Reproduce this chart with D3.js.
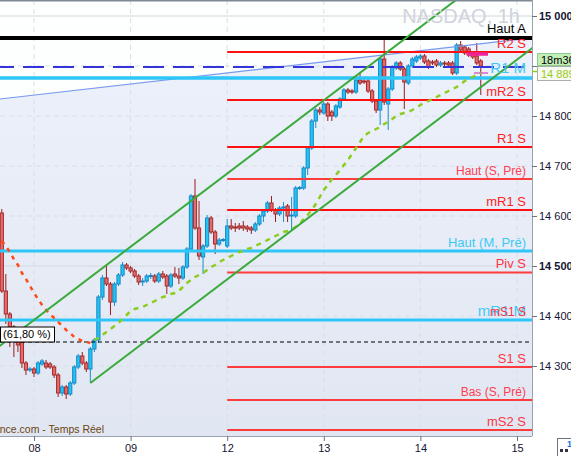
<!DOCTYPE html>
<html><head><meta charset="utf-8">
<script src="https://cdn.jsdelivr.net/npm/d3@7"></script>
<style>html,body{margin:0;padding:0;background:#fff;}svg{display:block;font-family:"Liberation Sans",Arial,sans-serif;}</style>
</head><body><svg id="c" width="571" height="456"></svg>
<script>
// ---------------- DATA ----------------
const dayTicks = [0, 24, 48, 72, 96, 120];
const dayLabels = ["08", "09", "12", "13", "14", "15"];
const priceTicks = [14300, 14400, 14500, 14600, 14700, 14800, 14900, 15000];
const hiddenPriceLabels = [14900]; // covered by the price boxes in the reference

const firstHour = -8; // hourly candles, index relative to day 08 start
const candleOpen = [14606,14450,14404,14378,14350,14348,14306,14292,14294,14286,14304,14306,14304,14298,14282,14246,14258,14244,14266,14298,14320,14306,14294,14334,14352,14438,14476,14464,14428,14464,14482,14502,14496,14490,14480,14468,14470,14480,14480,14470,14484,14480,14460,14484,14480,14476,14498,14534,14640,14576,14518,14540,14596,14568,14544,14552,14540,14580,14578,14580,14580,14578,14576,14572,14584,14600,14610,14626,14612,14604,14616,14620,14602,14600,14656,14656,14696,14736,14790,14812,14806,14824,14808,14800,14818,14834,14852,14850,14848,14872,14870,14870,14850,14830,14812,14914,14824,14854,14896,14906,14894,14866,14900,14910,14916,14920,14910,14908,14910,14902,14906,14906,14906,14886,14942,14938,14934,14926,14920,14910];
const candleHigh = [14614,14484,14408,14382,14354,14366,14310,14298,14298,14310,14314,14312,14308,14302,14286,14262,14262,14270,14302,14324,14328,14310,14338,14356,14442,14482,14502,14468,14468,14486,14508,14506,14500,14494,14484,14476,14484,14486,14484,14488,14490,14484,14486,14498,14496,14502,14538,14644,14674,14630,14544,14602,14600,14572,14556,14556,14594,14594,14586,14586,14590,14582,14580,14588,14604,14614,14630,14640,14616,14620,14628,14624,14638,14660,14660,14700,14740,14794,14816,14818,14828,14828,14812,14824,14838,14856,14856,14854,14876,14886,14874,14874,14854,14834,14918,14958,14858,14902,14910,14910,14898,14904,14918,14922,14924,14924,14914,14912,14914,14910,14910,14910,14910,14946,14950,14942,14938,14930,14946,14914];
const candleLow = [14446,14384,14338,14318,14328,14296,14282,14288,14278,14282,14300,14294,14294,14276,14238,14240,14234,14240,14262,14294,14302,14288,14266,14328,14346,14432,14460,14402,14420,14460,14478,14492,14486,14476,14462,14460,14466,14474,14466,14466,14474,14444,14456,14476,14464,14472,14494,14530,14572,14512,14484,14536,14564,14524,14540,14548,14536,14572,14568,14572,14570,14568,14564,14568,14580,14588,14606,14608,14588,14600,14588,14588,14570,14596,14652,14652,14682,14732,14776,14802,14802,14790,14790,14796,14814,14830,14844,14844,14844,14862,14864,14846,14826,14806,14782,14822,14772,14850,14892,14890,14814,14862,14896,14906,14912,14904,14894,14902,14898,14898,14900,14898,14882,14882,14928,14922,14918,14914,14902,14842];
const candleClose = [14450,14404,14378,14350,14342,14306,14292,14294,14286,14306,14310,14298,14298,14282,14246,14258,14244,14266,14298,14320,14306,14294,14334,14352,14438,14476,14464,14428,14464,14482,14502,14496,14490,14480,14468,14470,14480,14481,14470,14484,14478,14460,14482,14480,14476,14498,14534,14640,14576,14520,14540,14596,14568,14544,14552,14553,14580,14576,14577,14576,14576,14574,14572,14584,14600,14610,14626,14612,14604,14616,14618,14600,14602,14656,14657,14696,14736,14790,14812,14808,14824,14800,14800,14820,14834,14852,14848,14848,14872,14866,14868,14850,14830,14812,14914,14828,14854,14898,14906,14894,14868,14900,14914,14918,14920,14908,14898,14907,14902,14906,14905,14902,14886,14942,14932,14926,14922,14918,14906,14900];

// moving average (orange while falling, lime while rising)
const maFallStart = -8;
const maFall = [14550,14540,14528,14514,14502,14486,14474,14460,14446,14434,14422,14412,14404,14396,14388,14380,14372,14366,14358,14354,14350,14348,14346];
const maRiseStart = 15;
const maRise = [14352,14356,14362,14368,14374,14380,14386,14394,14402,14410,14414,14416,14418,14422,14426,14430,14434,14438,14440,14444,14446,14450,14458,14466,14472,14478,14482,14486,14492,14498,14502,14508,14512,14516,14520,14524,14528,14530,14534,14536,14540,14544,14548,14552,14556,14560,14564,14568,14570,14574,14578,14584,14594,14602,14612,14624,14638,14652,14662,14674,14682,14692,14702,14712,14724,14736,14748,14760,14766,14770,14774,14778,14784,14788,14794,14800,14804,14806,14808,14812,14816,14822,14826,14830,14834,14838,14842,14846,14850,14854,14858,14864,14870,14874,14878,14882,14886];

// horizontal levels
const levelNames = ["Haut A","R2 S","R1 M","mR2 S","R1 S","Haut (S, Pré)","mR1 S","Haut (M, Pré)","Piv S","mS1 S","mR1 M","S1 S","Bas (S, Pré)","mS2 S"];
const levelValues = [14956,14928,14876,14832,14738,14674,14612,14530,14487,14392,14392,14298,14232,14172];
const levelStart = [-9,48,-9,48,48,48,48,-9,48,48,-9,48,48,48];

const currentPriceDash = 14898;
const fiboValue = 14348;
const fiboLabel = "(61,80 %)";
const lastPrice = "14 889";
const lastPriceValue = 14889;
const countdown = "18m36";

const trendT = [-9, 124], trendV = [14833.5, 14956.5];
const chanUpT = [-9, 124], chanUpV = [14337, 15149];
const chanLoT = [14, 124], chanLoV = [14266, 14937];
const magThickT = [107.6, 112.8], magThickV = 14924;
const magThinT = [109.3, 112.8], magThinV = 14886;

// ---------------- STYLES ----------------
const levelStyle = {
  "Haut A": {c:"#000000", t:"#000000", w:4, fs:13},
  "R2 S": {c:"#ff1111", t:"#ff2222", w:2.2, fs:13},
  "R1 M": {c:"#2ec6f8", t:"#3ccaf4", w:3.5, fs:15},
  "mR2 S": {c:"#ff1111", t:"#ff2222", w:2.2, fs:13},
  "R1 S": {c:"#ff1111", t:"#ff2222", w:2.2, fs:13},
  "Haut (S, Pré)": {c:"#ff3c3c", t:"#ff4050", w:2.2, fs:12},
  "mR1 S": {c:"#ff1111", t:"#ff2222", w:2.2, fs:13},
  "Haut (M, Pré)": {c:"#2ec6f8", t:"#3ccaf4", w:3, fs:13},
  "Piv S": {c:"#ff3c3c", t:"#ff3344", w:2.2, fs:13},
  "mS1 S": {c:"#ff3c3c", t:"#ff3344", w:2.2, fs:12},
  "mR1 M": {c:"#2ec6f8", t:"#3ccaf4", w:3, fs:15},
  "S1 S": {c:"#ff3c3c", t:"#ff3344", w:2.2, fs:13},
  "Bas (S, Pré)": {c:"#ff3c3c", t:"#ff4050", w:2.2, fs:12},
  "mS2 S": {c:"#ff3c3c", t:"#ff3344", w:2.2, fs:13}
};

// ---------------- CHART ----------------
const PR = 532, PB = 436;
const svg = d3.select("#c");
const x = d3.scaleLinear().domain([0, 120]).range([34, 517]);
const y = d3.scaleLinear().domain([14300, 15000]).range([366, 16]);

const defs = svg.append("defs");
defs.append("clipPath").attr("id","plot").append("rect").attr("x",0).attr("y",0).attr("width",PR).attr("height",PB);
const grad = defs.append("linearGradient").attr("id","shade").attr("x1",0).attr("y1",0).attr("x2",0).attr("y2",1);
grad.append("stop").attr("offset","0%").attr("stop-color","#edf1fb");
grad.append("stop").attr("offset","100%").attr("stop-color","#e1e7f2");

svg.append("rect").attr("width",571).attr("height",456).attr("fill","#fff");
const g = svg.append("g").attr("clip-path","url(#plot)");
g.append("rect").attr("width",PR).attr("height",PB).attr("fill","#fdfefe");

// shaded area under the trend line
const trendPts = trendT.map((t,i)=>[t,trendV[i]]);
g.append("path").datum(trendPts)
  .attr("d", d3.area().x(d=>x(d[0])).y0(PB).y1(d=>y(d[1])))
  .attr("fill","url(#shade)");

// grid
g.selectAll(".hg").data(priceTicks).join("line")
  .attr("x1",0).attr("x2",PR).attr("y1",d=>y(d)).attr("y2",d=>y(d))
  .attr("stroke",d=>(d%500===0)?"#d3d7de":"#d9dee7").attr("stroke-width",1)
  .attr("stroke-dasharray",d=>(d%500===0)?null:"5,4");
g.selectAll(".vg").data(dayTicks).join("line")
  .attr("x1",d=>x(d)).attr("x2",d=>x(d)).attr("y1",0).attr("y2",PB)
  .attr("stroke","#d9dee7").attr("stroke-width",1).attr("stroke-dasharray","5,4");

// candles
const candles = candleOpen.map((o,i)=>({t:firstHour+i,o,h:candleHigh[i],l:candleLow[i],c:candleClose[i]}));
const cg = g.append("g");
cg.selectAll(".wick").data(candles).join("line")
  .attr("x1",d=>x(d.t)).attr("x2",d=>x(d.t)).attr("y1",d=>y(d.h)).attr("y2",d=>y(d.l))
  .attr("stroke",d=>d.c>=d.o?"#1a8fcc":"#9b1c1c").attr("stroke-width",1);
cg.selectAll(".body").data(candles).join("rect")
  .attr("x",d=>x(d.t)-1.6).attr("width",3.2)
  .attr("y",d=>y(Math.max(d.o,d.c))).attr("height",d=>Math.max(1,Math.abs(y(d.o)-y(d.c))))
  .attr("fill",d=>d.c>=d.o?"#22c4f2":"#e36b6b")
  .attr("stroke",d=>d.c>=d.o?"#1488c8":"#a52a2a").attr("stroke-width",1);

// trend line
const line = d3.line().x(d=>x(d[0])).y(d=>y(d[1]));
g.append("path").datum(trendPts).attr("d",line).attr("fill","none").attr("stroke","#7799ee").attr("stroke-width",1.2);

// levels
const levels = levelNames.map((n,i)=>({n,v:levelValues[i],s:levelStart[i]}));
g.selectAll(".lvl").data(levels).join("line")
  .attr("x1",d=>x(d.s)).attr("x2",PR).attr("y1",d=>y(d.v)).attr("y2",d=>y(d.v))
  .attr("stroke",d=>levelStyle[d.n].c).attr("stroke-width",d=>levelStyle[d.n].w);

// current price dashed line
g.append("line").attr("x1",0).attr("x2",PR).attr("y1",y(currentPriceDash)).attr("y2",y(currentPriceDash))
  .attr("stroke","#3434d8").attr("stroke-width",2).attr("stroke-dasharray","21,9").attr("stroke-dashoffset",7);

// fibo dashed line
g.append("line").attr("x1",0).attr("x2",PR).attr("y1",y(fiboValue)).attr("y2",y(fiboValue))
  .attr("stroke","#000").attr("stroke-width",1.2).attr("stroke-dasharray","4,3");

// magenta markers
g.append("line").attr("x1",x(magThickT[0])).attr("x2",x(magThickT[1])).attr("y1",y(magThickV)).attr("y2",y(magThickV))
  .attr("stroke","#ee2299").attr("stroke-width",3.5);
g.append("line").attr("x1",x(magThinT[0])).attr("x2",x(magThinT[1])).attr("y1",y(magThinV)).attr("y2",y(magThinV))
  .attr("stroke","#d040c8").attr("stroke-width",1.2);

// moving averages
g.append("path").datum(maFall.map((v,i)=>[maFallStart+i,v])).attr("d",line)
  .attr("fill","none").attr("stroke","#ff4a1a").attr("stroke-width",2.5).attr("stroke-dasharray","4,5");
g.append("path").datum(maRise.map((v,i)=>[maRiseStart+i,v])).attr("d",line)
  .attr("fill","none").attr("stroke","#8ccc1e").attr("stroke-width",2.5).attr("stroke-dasharray","5,5");

// channel
g.append("path").datum(chanUpT.map((t,i)=>[t,chanUpV[i]])).attr("d",line).attr("fill","none").attr("stroke","#3aaa3a").attr("stroke-width",2);
g.append("path").datum(chanLoT.map((t,i)=>[t,chanLoV[i]])).attr("d",line).attr("fill","none").attr("stroke","#3aaa3a").attr("stroke-width",2);

// fibo label box
g.append("rect").attr("x",0.5).attr("y",y(fiboValue)-15).attr("width",54).attr("height",15)
  .attr("fill","#fff").attr("stroke","#000").attr("stroke-width",1);
g.append("text").attr("x",3).attr("y",y(fiboValue)-4).attr("font-size",11).attr("fill","#000").text(fiboLabel);

// level labels (M first, then others over them)
const lblOrder = levels.filter(d=>d.n.endsWith(" M")).concat(levels.filter(d=>!d.n.endsWith(" M")));
g.selectAll(".lbl").data(lblOrder).join("text")
  .attr("x",526).attr("y",d=>y(d.v)-3-levelStyle[d.n].w/2)
  .attr("text-anchor","end").attr("font-size",d=>levelStyle[d.n].fs)
  .attr("fill",d=>levelStyle[d.n].t).text(d=>d.n);

// watermark
g.append("text").attr("x",520).attr("y",23).attr("text-anchor","end").attr("font-size",20)
  .attr("fill","#cfd4dc").text("NASDAQ, 1h");

// source
svg.append("text").attr("x",104).attr("y",433).attr("text-anchor","end").attr("font-size",10.5)
  .attr("fill","#6b4410").text("ance.com - Temps Réel");

// top border
svg.append("line").attr("x1",0).attr("x2",PR).attr("y1",0.75).attr("y2",0.75).attr("stroke","#7d8995").attr("stroke-width",1.5);

// axes
const yAxis = svg.append("g").attr("transform",`translate(${PR},0)`)
  .call(d3.axisRight(y).tickValues(priceTicks).tickSize(5).tickPadding(2)
    .tickFormat(d=>hiddenPriceLabels.includes(d)?"":d3.format(",")(d).replace(",", " ")));
yAxis.select(".domain").attr("stroke","#9aa3ad").attr("d",`M0.5,0V${PB}`);
yAxis.selectAll(".tick line").attr("stroke","#6a7480");
yAxis.selectAll(".tick text").attr("font-size",11).attr("fill","#141433")
  .attr("font-family","Liberation Sans, Arial, sans-serif")
  .attr("font-weight",d=>d%500===0?"bold":"normal");

const xAxis = svg.append("g").attr("transform",`translate(0,${PB})`)
  .call(d3.axisBottom(x).tickValues(dayTicks).tickSize(5).tickPadding(3).tickFormat((d,i)=>dayLabels[i]));
xAxis.select(".domain").attr("stroke","#9aa3ad").attr("d",`M0,0.5H${PR}`);
xAxis.selectAll(".tick line").attr("stroke","#6a7480");
xAxis.selectAll(".tick text").attr("font-size",11).attr("fill","#141433").attr("font-family","Liberation Sans, Arial, sans-serif");

// price boxes on right axis
svg.append("rect").attr("x",537.5).attr("y",53.5).attr("width",40).attr("height",12).attr("fill","#c2efb8").attr("stroke","#8fca8f");
svg.append("text").attr("x",541).attr("y",63.5).attr("font-size",11).attr("fill","#000").text(countdown);
svg.append("rect").attr("x",537.5).attr("y",66.5).attr("width",40).attr("height",14).attr("fill","#f6f9f4").attr("stroke","#a8b0a8");
svg.append("text").attr("x",541).attr("y",77.5).attr("font-size",11).attr("fill","#99cc11").text(lastPrice);
svg.append("line").attr("x1",532).attr("x2",537).attr("y1",y(lastPriceValue)).attr("y2",y(lastPriceValue)).attr("stroke","#88cc22").attr("stroke-width",1.5);

// corner icon
svg.append("rect").attr("x",557.5).attr("y",438.5).attr("width",16).attr("height",18).attr("fill","#fff").attr("stroke","#6a7480");
svg.append("rect").attr("x",560).attr("y",449).attr("width",3).attr("height",3).attr("fill","#334");
svg.append("rect").attr("x",565).attr("y",449).attr("width",3).attr("height",3).attr("fill","#334");
svg.append("text").attr("x",567).attr("y",447).attr("font-size",9).attr("font-weight","bold").attr("fill","#1a6fd0").text("1");
</script></body></html>
